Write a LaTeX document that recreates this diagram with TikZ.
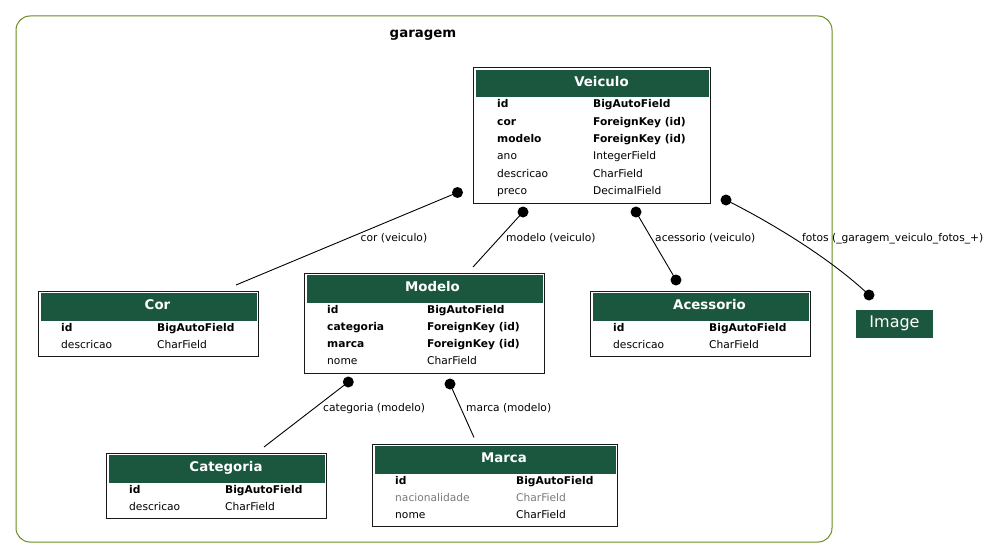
\documentclass[tikz,border=0pt]{standalone}
\usepackage{fontspec}
\setmainfont{DejaVu Sans}
\definecolor{hdrgreen}{HTML}{1B563F}
\definecolor{clustercol}{HTML}{698B22}
\definecolor{blankgray}{HTML}{7B7B7B}
\tikzset{
  cluster/.style={draw=clustercol, line width=1pt, rounded corners=14pt},
  clustertitle/.style={font=\fontsize{13.33}{15}\selectfont\bfseries, anchor=base, inner sep=0},
  tblbox/.style={draw=black!90, line width=1pt, fill=white, rectangle, inner sep=0, outer sep=0, anchor=north west},
  hdrbox/.style={fill=hdrgreen, rectangle, inner sep=0, outer sep=0, anchor=north west},
  hdrtext/.style={text=white, font=\fontsize{13.33}{15}\selectfont\bfseries, anchor=base, inner sep=0},
  fld/.style={font=\fontsize{10.67}{12}\selectfont, anchor=base west, inner sep=0},
  fldb/.style={fld, font=\fontsize{10.67}{12}\selectfont\bfseries},
  fldg/.style={fld, text=blankgray},
  imgtext/.style={text=white, font=\fontsize{16}{18}\selectfont, anchor=base, inner sep=0},
  elabel/.style={font=\fontsize{10.67}{12}\selectfont, anchor=base west, inner sep=0},
  dot/.style={circle, fill=black, minimum size=11pt, inner sep=0},
  edge/.style={line width=0.9pt, black},
}
\begin{document}
\begin{tikzpicture}[x=1pt, y=-1pt]
\useasboundingbox (0,0) rectangle (992,559);
\fill[white] (0,0) rectangle (992,559);

% cluster
\draw[cluster] (16,16) rectangle (832,542);
\node[clustertitle] (title) at (423,37.5) {garagem};

% Veiculo
\node[tblbox, minimum width=237pt, minimum height=135pt] (veiculo) at (473,68) {};
\node[hdrbox, minimum width=233pt, minimum height=27.5pt] (veiculoh) at (475.5,70) {};
\node[hdrtext] (veiculot) at (601.5,86.5) {Veiculo};
\node[fldb] (v1a) at (497,108) {id};
\node[fldb] (v1b) at (593,108) {BigAutoField};
\node[fldb] (v2a) at (497,125.3) {cor};
\node[fldb] (v2b) at (593,125.3) {ForeignKey (id)};
\node[fldb] (v3a) at (497,142.6) {modelo};
\node[fldb] (v3b) at (593,142.6) {ForeignKey (id)};
\node[fld] (v4a) at (497,159.9) {ano};
\node[fld] (v4b) at (593,159.9) {IntegerField};
\node[fld] (v5a) at (497,177.2) {descricao};
\node[fld] (v5b) at (593,177.2) {CharField};
\node[fld] (v6a) at (497,194.5) {preco};
\node[fld] (v6b) at (593,194.5) {DecimalField};

% Cor
\node[tblbox, minimum width=220pt, minimum height=65pt] (cor) at (38,291) {};
\node[hdrbox, minimum width=216pt, minimum height=27.5pt] (corh) at (40.5,293) {};
\node[hdrtext] (cort) at (157.5,309.5) {Cor};
\node[fldb] (c1a) at (61,331) {id};
\node[fldb] (c1b) at (157,331) {BigAutoField};
\node[fld] (c2a) at (61,348.3) {descricao};
\node[fld] (c2b) at (157,348.3) {CharField};

% Modelo
\node[tblbox, minimum width=240pt, minimum height=100pt] (modelo) at (304,273) {};
\node[hdrbox, minimum width=236pt, minimum height=27.5pt] (modeloh) at (306.5,275) {};
\node[hdrtext] (modelot) at (432.5,291.5) {Modelo};
\node[fldb] (m1a) at (327,313) {id};
\node[fldb] (m1b) at (427,313) {BigAutoField};
\node[fldb] (m2a) at (327,330.3) {categoria};
\node[fldb] (m2b) at (427,330.3) {ForeignKey (id)};
\node[fldb] (m3a) at (327,347.6) {marca};
\node[fldb] (m3b) at (427,347.6) {ForeignKey (id)};
\node[fld] (m4a) at (327,364.9) {nome};
\node[fld] (m4b) at (427,364.9) {CharField};

% Acessorio
\node[tblbox, minimum width=220pt, minimum height=65pt] (acessorio) at (590,291) {};
\node[hdrbox, minimum width=216pt, minimum height=27.5pt] (acessorioh) at (592.5,293) {};
\node[hdrtext] (acessoriot) at (709.5,309.5) {Acessorio};
\node[fldb] (a1a) at (613,331) {id};
\node[fldb] (a1b) at (709,331) {BigAutoField};
\node[fld] (a2a) at (613,348.3) {descricao};
\node[fld] (a2b) at (709,348.3) {CharField};

% Categoria
\node[tblbox, minimum width=220pt, minimum height=65pt] (categoria) at (106,453) {};
\node[hdrbox, minimum width=216pt, minimum height=27.5pt] (categoriah) at (108.5,455) {};
\node[hdrtext] (categoriat) at (226,471.5) {Categoria};
\node[fldb] (k1a) at (129,493) {id};
\node[fldb] (k1b) at (225,493) {BigAutoField};
\node[fld] (k2a) at (129,510.3) {descricao};
\node[fld] (k2b) at (225,510.3) {CharField};

% Marca
\node[tblbox, minimum width=245pt, minimum height=82pt] (marca) at (372,444) {};
\node[hdrbox, minimum width=241pt, minimum height=27.5pt] (marcah) at (374.5,446) {};
\node[hdrtext] (marcat) at (504,462.5) {Marca};
\node[fldb] (r1a) at (395,484) {id};
\node[fldb] (r1b) at (516,484) {BigAutoField};
\node[fldg] (r2a) at (395,501.3) {nacionalidade};
\node[fldg] (r2b) at (516,501.3) {CharField};
\node[fld] (r3a) at (395,518.6) {nome};
\node[fld] (r3b) at (516,518.6) {CharField};

% Image
\node[hdrbox, minimum width=77pt, minimum height=27.5pt] (image) at (856,310) {};
\node[imgtext] (imaget) at (894.5,327.5) {Image};

% connector end points
\coordinate (corend) at (236,285);
\coordinate (modeloend) at (473,267);
\coordinate (catend) at (264,447);
\coordinate (marcaend) at (474,437.5);

% dots
\node[dot] (dcor) at (457.5,192.5) {};
\node[dot] (dmodelo) at (523,212) {};
\node[dot] (dacc1) at (636,212) {};
\node[dot] (dacc2) at (676,280) {};
\node[dot] (dfot1) at (726,200) {};
\node[dot] (dfot2) at (869,295) {};
\node[dot] (dcat) at (348.3,382) {};
\node[dot] (dmarca) at (450,384) {};

% connectors
\draw[edge] (dcor.center) -- (corend);
\draw[edge] (dmodelo.center) -- (modeloend);
\draw[edge] (dacc1.center) -- (dacc2.center);
\draw[edge] (dfot1.center) .. controls (770,222) and (830,258) .. (dfot2.center);
\draw[edge] (dcat.center) -- (catend);
\draw[edge] (dmarca.center) -- (marcaend);

% labels
\node[elabel] (lcor) at (360.5,241) {cor (veiculo)};
\node[elabel] (lmodelo) at (506,241) {modelo (veiculo)};
\node[elabel] (lacc) at (655,241) {acessorio (veiculo)};
\node[elabel] (lfot) at (802,241) {fotos (\_garagem\_veiculo\_fotos\_+)};
\node[elabel] (lcat) at (323,411) {categoria (modelo)};
\node[elabel] (lmarca) at (466,411) {marca (modelo)};
\end{tikzpicture}
\end{document}
